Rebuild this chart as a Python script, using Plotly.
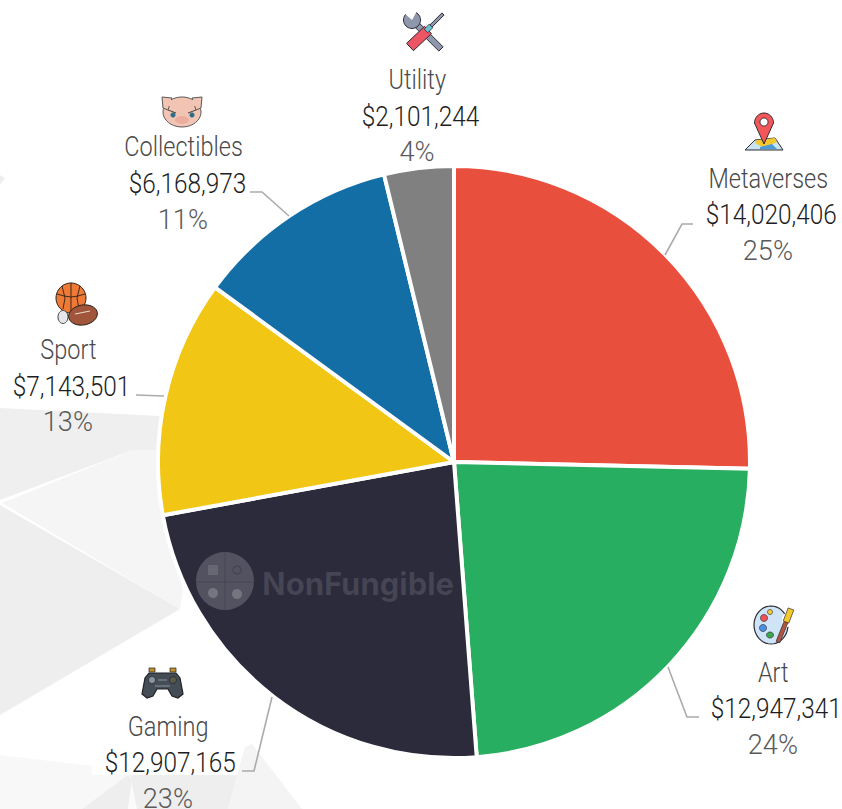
import math
import plotly.graph_objects as go

W, H = 842, 809

# ---- data ----
categories = ["Metaverses", "Art", "Gaming", "Sport", "Collectibles", "Utility"]
values = [14020406, 12947341, 12907165, 7143501, 6168973, 2101244]
percent_labels = ["25%", "24%", "23%", "13%", "11%", "4%"]
slice_colors = ["#E94F3D", "#27AE60", "#2C2B3C", "#F1C615", "#146EA6", "#808080"]

# ---- label layout (pixels) ----
label_x = [768, 773, 168, 68, 183, 417]
value_x = [771, 776, 170.5, 71, 187.5, 420.5]
label_y = [178, 672, 726, 350, 147, 80]
LINE_GAP = 36
leaders = [
    [(665, 255), (682, 224), (693, 224)],
    [(668, 667), (687, 717), (699, 717)],
    [(272, 697), (254, 771), (242, 771)],
    [(164, 396), (136, 395)],
    [(289, 216), (262, 192), (250, 192)],
]
bg_polys = [
    ("#EFEFEF", [(0, 408), (160, 416), (160, 450), (133, 450), (0, 500)]),
    ("#F5F5F5", [(2, 503), (133, 450), (160, 450), (166, 530), (183, 590), (180, 609)]),
    ("#EEEEEE", [(0, 505), (180, 609), (0, 715)]),
    ("#EEEEEE", [(0, 175), (5, 178), (0, 185)]),
    ("#F8F8F8", [(0, 755), (92, 766), (130, 775), (82, 809), (0, 809)]),
    ("#EEEEEE", [(82, 809), (128, 775), (132, 780), (128, 809)]),
    ("#FBFBFB", [(132, 780), (138, 809), (128, 809)]),
    ("#EEEEEE", [(130, 775), (238, 775), (245, 747), (228, 809), (137, 809)]),
    ("#F4F4F4", [(245, 747), (252, 744), (302, 809), (228, 809)]),
]


def px(x):
    return x / W


def py(y):
    return 1 - y / H


def poly_path(points, close=True):
    s = "M" + " L".join(f"{px(x):.5f},{py(y):.5f}" for x, y in points)
    return s + (" Z" if close else "")


def ellipse(cx, cy, rx, ry, rot=0, n=40):
    r = math.radians(rot)
    pts = []
    for i in range(n):
        t = 2 * math.pi * i / n
        a, b = rx * math.cos(t), ry * math.sin(t)
        pts.append((cx + a * math.cos(r) - b * math.sin(r), cy + a * math.sin(r) + b * math.cos(r)))
    return pts


def bar(x0, y0, x1, y1, w):
    dx, dy = x1 - x0, y1 - y0
    l = math.hypot(dx, dy)
    nx, ny = -dy / l * w / 2, dx / l * w / 2
    return [(x0 + nx, y0 + ny), (x1 + nx, y1 + ny), (x1 - nx, y1 - ny), (x0 - nx, y0 - ny)]


shapes = []


def add(points, fill="rgba(0,0,0,0)", line=None, width=1, layer="above", close=True):
    shapes.append(dict(type="path", xref="paper", yref="paper", path=poly_path(points, close),
                       fillcolor=fill, line=dict(color=line or "rgba(0,0,0,0)", width=width if line else 0),
                       layer=layer))


# background facets
for col, pts in bg_polys:
    add(pts, fill=col, layer="below")
add([(92, 747), (238, 747), (238, 775), (92, 775)], fill="#FFFFFF", layer="below")

# leader lines
for pts in leaders:
    add(pts, line="#ABABAB", width=1.6, close=False)

INK = "#2B2B33"

# utility icon
add(bar(415, 23, 441, 49, 6), fill="#8E97AB", line=INK, width=1)
add(ellipse(412, 20, 8.5, 8.5), fill="#8E97AB", line=INK, width=1)
add([(404, 13), (412, 20), (417, 11), (409, 8)], fill="#FFFFFF")
add(bar(443, 14, 427, 30, 3), fill="#8E97AB", line=INK, width=1)
add(bar(428, 30, 410, 47, 10), fill="#EE5564", line=INK, width=1)
add(bar(431, 26, 426, 31, 5), fill="#63C3CF", line=INK, width=0.8)

# collectibles (pig) icon
add(ellipse(182, 112, 19, 15), fill="#F2C4B4", line="#5A5A5A", width=1)
add([(162, 97), (172, 98), (168, 110), (163, 108)], fill="#F2C4B4", line="#5A5A5A", width=1)
add([(202, 97), (192, 98), (196, 110), (201, 108)], fill="#F2C4B4", line="#5A5A5A", width=1)
add([(166, 100), (198, 100), (198, 106), (166, 106)], fill="#F2C4B4")
add(ellipse(182, 120, 7, 4), fill="#EBAE9E")
add(ellipse(173, 115, 2.5, 2.5), fill="#2F6E8A")
add(ellipse(192, 115, 2.5, 2.5), fill="#2F6E8A")
add([(168, 110), (176, 113)], line="#444444", width=1, close=False)
add([(196, 110), (188, 113)], line="#444444", width=1, close=False)

# sport icon
add(ellipse(71, 298, 15, 15), fill="#EE7A35", line="#2B2018", width=1)
add([(71, 283), (71, 313)], line="#2B2018", width=0.9, close=False)
add([(57, 294), (64, 296), (71, 297), (78, 296), (85, 294)], line="#2B2018", width=0.9, close=False)
add([(62, 286), (65, 298), (63, 309)], line="#2B2018", width=0.9, close=False)
add([(80, 286), (77, 298), (79, 309)], line="#2B2018", width=0.9, close=False)
add(ellipse(63, 317, 5, 6.5), fill="#E4E6EA", line="#444444", width=1)
add(ellipse(83, 315, 14.5, 10, rot=-10), fill="#A0563B", line="#2B2018", width=1)
add(bar(75, 314, 90, 311, 1.2), fill="#E8D8C8")

# metaverses icon
add([(755, 140), (775, 138), (783, 150), (745, 150)], fill="#C8E3F2", line=INK, width=1)
add([(757, 140), (775, 138), (777, 142), (764, 148), (755, 143)], fill="#F4C92E")
add([(760, 147), (772, 144), (777, 149), (760, 149)], fill="#4A9BD8")
pin = ellipse(764, 123, 9.5, 10)
add(pin[20:40] + pin[:1] + [(764, 144)], fill="#F4575A", line=INK, width=1)
add(ellipse(764, 122, 4, 4), fill="#FFFFFF", line=INK, width=1)

# art icon
add(ellipse(771, 625, 17, 19), fill="#CFE5F7", line=INK, width=1.2)
add(ellipse(787, 620, 5, 7), fill="#FFFFFF")
add(ellipse(764, 618, 3.5, 3.5), fill="#EF5350", line=INK, width=0.7)
add(ellipse(770, 612, 2.5, 2.5), fill="#F4C92E", line=INK, width=0.7)
add(ellipse(763, 628, 3.5, 3.5), fill="#4A90E2", line=INK, width=0.7)
add(ellipse(770, 635, 3.5, 3, ), fill="#3CA64A", line=INK, width=0.7)
add(bar(778, 642, 786, 622, 4), fill="#B5533C", line=INK, width=0.7)
add(bar(786, 622, 791, 609, 6), fill="#F4C92E", line=INK, width=0.7)

# gaming icon
add([(149, 673), (176, 673), (180, 678), (183, 694), (178, 698), (172, 696), (168, 689),
     (157, 689), (153, 696), (147, 698), (142, 694), (145, 678)], fill="#444C56", line="#1E2126", width=1.2)
add([(149, 668), (155, 668), (155, 672), (149, 672)], fill="#C58F2C", line="#1E2126", width=0.7)
add([(170, 668), (176, 668), (176, 672), (170, 672)], fill="#C58F2C", line="#1E2126", width=0.7)
add(ellipse(152, 680, 3.5, 3.5), fill="#8A929C", line="#1E2126", width=0.7)
add(ellipse(173, 680, 3.5, 3.5), fill="#5A5A48", line="#1E2126", width=0.7)
add([(158, 680), (167, 680)], line="#8A929C", width=1, close=False)
add([(155, 686), (170, 686)], line="#8A929C", width=1, close=False)

# watermark
add(ellipse(225, 581, 29, 29), fill="rgba(255,255,255,0.19)")
add([(225, 552), (225, 610)], line="rgba(44,43,60,0.25)", width=1, close=False)
add([(196, 582), (254, 582)], line="rgba(44,43,60,0.25)", width=1, close=False)
add(ellipse(237, 570, 4, 4), line="rgba(44,43,60,0.3)", width=1.5)
add(ellipse(213, 593, 5, 5), fill="rgba(255,255,255,0.2)")
add(ellipse(237, 594, 5, 5), fill="rgba(255,255,255,0.2)")
add([(208, 565), (218, 565), (218, 575), (208, 575)], fill="rgba(255,255,255,0.12)")

fig = go.Figure(go.Pie(
    labels=categories,
    values=values,
    sort=False,
    direction="clockwise",
    rotation=0,
    marker=dict(colors=slice_colors, line=dict(color="#FFFFFF", width=4)),
    textinfo="none",
    hoverinfo="label+value",
    showlegend=False,
    domain=dict(x=[px(158), px(750)], y=[py(758), py(166)]),
))

FONT = "Roboto, sans-serif"
annotations = []


def text(x, y, s, color, size=28, family=FONT, weight=300):
    annotations.append(dict(x=px(x), y=py(y), xref="paper", yref="paper", text=s, showarrow=False,
                            xanchor="center", yanchor="middle",
                            font=dict(family=family, size=size, color=color, weight=weight)))


for name, val, pct, x, vx, y in zip(categories, values, percent_labels, label_x, value_x, label_y):
    text(x, y, name, "#4A4A4A")
    text(vx, y + LINE_GAP, f"${val:,}", "#1E1E22")
    text(x, y + 2 * LINE_GAP, pct, "#5A5A5A")

text(358, 583, "NonFungible", "rgba(255,255,255,0.12)", size=31, family="Inter, Roboto, sans-serif", weight=700)

# the page's default body margin would shift the 842 wide figure; the reference's lettering
# is a condensed face, so the labels are narrowed horizontally about their centres (still real text)
post = """
document.body.style.margin = '0';
document.querySelectorAll('.annotation-text').forEach(function (t) {
  var s = t.textContent;
  if (s.indexOf('NonFungible') >= 0) return;
  var k = s.charAt(0) === '$' ? 0.87 : (s.indexOf('%') >= 0 ? 0.97 : 0.84);
  var b = t.getBBox();
  var c = b.x + b.width / 2;
  var old = t.getAttribute('transform') || '';
  t.setAttribute('transform', old + ' translate(' + c + ',0) scale(' + k + ',1) translate(' + (-c) + ',0)');
});
"""

fig.update_layout(
    width=W, height=H,
    margin=dict(l=0, r=0, t=0, b=0),
    paper_bgcolor="#FFFFFF",
    plot_bgcolor="#FFFFFF",
    shapes=shapes,
    annotations=annotations,
)
fig.write_html("out.html", config=dict(displayModeBar=False), post_script=post)
